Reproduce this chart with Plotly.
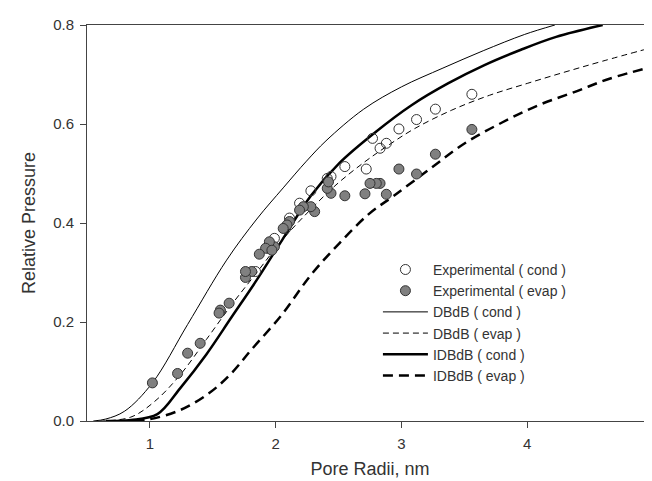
import plotly.graph_objects as go

# Experimental data (condensation, open circles)
cond_x = [3.56, 3.27, 3.12, 2.98, 2.88, 2.83, 2.77, 2.72, 2.55, 2.44, 2.41, 2.28, 2.19, 2.11, 2.08, 1.99, 1.94, 1.84, 1.56]
cond_y = [0.66, 0.63, 0.609, 0.59, 0.561, 0.551, 0.571, 0.509, 0.514, 0.494, 0.49, 0.465, 0.44, 0.41, 0.389, 0.369, 0.349, 0.302, 0.221]

# Experimental data (evaporation, filled circles)
evap_x = [3.56, 3.27, 3.12, 2.98, 2.88, 2.83, 2.80, 2.75, 2.71, 2.55, 2.44, 2.41, 2.42, 2.31, 2.28, 2.22, 2.19,
          2.11, 2.09, 2.06, 1.99, 1.95, 1.92, 1.87, 1.97, 1.81, 1.76, 1.76, 1.63, 1.56, 1.55, 1.40, 1.30, 1.22, 1.02]
evap_y = [0.589, 0.539, 0.499, 0.509, 0.458, 0.48, 0.48, 0.48, 0.459, 0.455, 0.46, 0.47, 0.483, 0.423, 0.433, 0.433, 0.426,
          0.403, 0.396, 0.389, 0.352, 0.362, 0.349, 0.337, 0.345, 0.302, 0.29, 0.302, 0.238, 0.224, 0.218, 0.157, 0.137, 0.096, 0.077]

# Model curves
dbdb_cond_x = [0.55, 0.65, 0.80, 1.02, 1.30, 1.61, 1.85, 2.06, 2.245, 2.40, 2.70, 3.00, 3.33, 3.65, 3.98, 4.22]
dbdb_cond_y = [0.0, 0.004, 0.02, 0.077, 0.195, 0.325, 0.408, 0.471, 0.525, 0.566, 0.63, 0.675, 0.713, 0.748, 0.781, 0.80]

dbdb_evap_x = [0.6, 0.85, 1.04, 1.24, 1.45, 1.65, 1.85, 2.05, 2.25, 2.48, 2.70, 2.89, 3.10, 3.40, 3.70, 4.00, 4.30, 4.60, 5.0]
dbdb_evap_y = [0.0, 0.008, 0.04, 0.093, 0.165, 0.235, 0.30, 0.365, 0.42, 0.477, 0.522, 0.556, 0.59, 0.628, 0.658, 0.682, 0.705, 0.727, 0.755]

idbdb_cond_x = [0.65, 0.85, 1.06, 1.24, 1.45, 1.65, 1.85, 2.05, 2.28, 2.51, 2.80, 3.08, 3.37, 3.66, 3.95, 4.23, 4.60]
idbdb_cond_y = [0.0, 0.002, 0.014, 0.066, 0.135, 0.21, 0.285, 0.365, 0.455, 0.522, 0.585, 0.638, 0.682, 0.719, 0.75, 0.776, 0.80]

idbdb_evap_x = [0.75, 0.98, 1.24, 1.48, 1.65, 1.80, 2.05, 2.28, 2.51, 2.74, 2.94, 3.23, 3.51, 3.80, 4.09, 4.38, 4.66, 5.0]
idbdb_evap_y = [0.0, 0.003, 0.022, 0.058, 0.097, 0.142, 0.215, 0.295, 0.36, 0.418, 0.455, 0.51, 0.562, 0.603, 0.638, 0.665, 0.692, 0.716]

x_ticks = [1, 2, 3, 4, 5]
y_ticks = [0.0, 0.2, 0.4, 0.6, 0.8]

fig = go.Figure()

def curve(x, y, name, width, dash, rank):
    fig.add_trace(go.Scatter(x=x, y=y, mode="lines", name=name, legendrank=rank,
                             line=dict(color="black", width=width, dash=dash, shape="spline", smoothing=1.0)))

curve(dbdb_cond_x, dbdb_cond_y, "DBdB ( cond )", 1, "solid", 3)
curve(dbdb_evap_x, dbdb_evap_y, "DBdB ( evap )", 1, "6px,4px", 4)
curve(idbdb_cond_x, idbdb_cond_y, "IDBdB ( cond )", 2.5, "solid", 5)
curve(idbdb_evap_x, idbdb_evap_y, "IDBdB ( evap )", 2.5, "10px,6px", 6)

fig.add_trace(go.Scatter(x=cond_x, y=cond_y, mode="markers", name="Experimental ( cond )", legendrank=1,
                         marker=dict(symbol="circle-open", size=10, color="#333333", line=dict(width=1))))
fig.add_trace(go.Scatter(x=evap_x, y=evap_y, mode="markers", name="Experimental ( evap )", legendrank=2,
                         marker=dict(symbol="circle", size=10, color="#808080", line=dict(color="#333333", width=1))))

fig.update_layout(
    width=652, height=481,
    margin=dict(l=79, r=3, t=17, b=68),
    paper_bgcolor="white", plot_bgcolor="white",
    font=dict(family="Liberation Sans, Arial", size=15, color="#333333"),
    showlegend=True,
    legend=dict(x=0.514, y=0.422, xanchor="left", yanchor="top", bgcolor="rgba(0,0,0,0)",
                font=dict(size=14, color="#333333"), itemwidth=45),
    xaxis=dict(range=[0.5, 5], tickvals=x_ticks, ticks="outside", ticklen=6, tickcolor="#444",
               ticklabelstandoff=3, ticklabeloverflow="allow",
               showline=True, linecolor="#444", linewidth=1, mirror=True, showgrid=False, zeroline=False,
               title=dict(text="Pore Radii, nm", font=dict(size=18), standoff=11)),
    yaxis=dict(range=[0, 0.8], tickvals=y_ticks, tickformat=".1f", ticks="outside", ticklen=6, tickcolor="#444",
               ticklabelstandoff=3,
               showline=True, linecolor="#444", linewidth=1, mirror=True, showgrid=False, zeroline=False,
               title=dict(text="Relative Pressure", font=dict(size=18), standoff=12)),
)

fig.write_html("out.html")
